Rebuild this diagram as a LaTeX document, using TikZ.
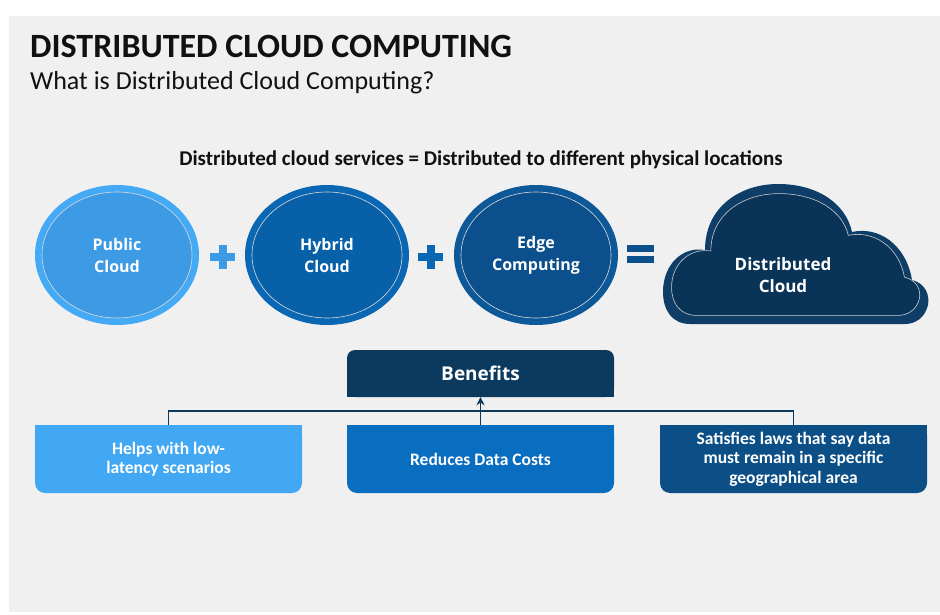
\documentclass[tikz,border=0pt]{standalone}
\usepackage{fontspec}
\setmainfont{Carlito}
\newfontfamily\osans{Open Sans}
\usetikzlibrary{arrows.meta,shapes.geometric,calc}
\definecolor{bg}{HTML}{F0F0F0}
\definecolor{navy}{HTML}{0B3A5E}
\definecolor{puba}{HTML}{45AAF5}
\definecolor{pubb}{HTML}{3D9BE6}
\definecolor{hyba}{HTML}{0A67B3}
\definecolor{hybb}{HTML}{0860A8}
\definecolor{edga}{HTML}{0D5898}
\definecolor{edgb}{HTML}{0B4F8C}
\definecolor{clda}{HTML}{0E3E68}
\definecolor{cldb}{HTML}{0A3358}
\definecolor{boxa}{HTML}{42A8F4}
\definecolor{boxb}{HTML}{0A6EC0}
\definecolor{boxc}{HTML}{0B4F86}
\definecolor{ink}{HTML}{111111}
\tikzset{
  outerov/.style={ellipse, minimum width=164, minimum height=140, inner sep=0},
  innerov/.style={ellipse, draw=white!85!black, line width=0.6pt, minimum width=150, minimum height=126, inner sep=0,
     text=white, align=center, font=\osans\bfseries\fontsize{16}{22}\selectfont},
  bbox/.style={minimum width=267, minimum height=68, inner sep=0, rounded corners=10pt},
  btext/.style={text=white, align=center, font=\bfseries\fontsize{17.5}{19.5}\selectfont},
  conn/.style={draw=navy, line width=1.8pt},
}
\newcommand\cloudpath{(690,324) .. controls (672,324) and (663,310) .. (663,292)
  .. controls (663,264) and (683,246) .. (705,250)
  .. controls (705,207) and (740,184) .. (778,184)
  .. controls (818,184) and (846,204) .. (852,232)
  .. controls (878,226) and (906,244) .. (912,280)
  .. controls (925,283) and (930,295) .. (928,305)
  .. controls (925,318) and (915,324) .. (905,324) -- cycle}
\begin{document}
\begin{tikzpicture}[x=1pt,y=-1pt]
\useasboundingbox (0,0) rectangle (940,615);
\fill[white] (0,0) rectangle (940,615);
\fill[bg] (9,16) rectangle (940,612);

\node[anchor=base west, inner sep=0, text=ink] (title) at (30,58)
  {\fontsize{34}{40}\selectfont\bfseries DISTRIBUTED CLOUD COMPUTING};
\node[anchor=base west, inner sep=0, text=ink] (sub) at (30,90)
  {\fontsize{26}{30}\selectfont What is Distributed Cloud Computing?};
\node[anchor=base, inner sep=0, text=ink] (head) at (481,165)
  {\fontsize{21}{24}\selectfont\bfseries Distributed cloud services = Distributed to different physical locations};

% circles
\node[outerov, fill=puba] (pub) at (117,255) {};
\node[innerov, fill=pubb] (pubi) at (pub) {Public\\Cloud};
\node[outerov, fill=hyba] (hyb) at (327,255) {};
\node[innerov, fill=hybb] (hybi) at (hyb) {Hybrid\\Cloud};
\node[outerov, fill=edga] (edg) at (536,255) {};
\node[innerov, fill=edgb] (edgi) at (edg) {Edge\\Computing};

% plus and equals
\fill[pubb] (210,253) rectangle (235,261);
\fill[pubb] (218.5,245) rectangle (226.5,269);
\fill[hyba] (418,253) rectangle (443,261);
\fill[hyba] (426.5,245) rectangle (434.5,269);
\fill[edgb] (627,245) rectangle (654,252);
\fill[edgb] (627,256) rectangle (654,263);

% cloud
\fill[clda] \cloudpath;
\begin{scope}[shift={(795,258)}, xscale=0.935, yscale=0.87, shift={(-795,-258)}]
\fill[cldb, draw=white!80!black, line width=0.6pt] \cloudpath;
\end{scope}
\node[text=white, align=center, font=\osans\bfseries\fontsize{17}{22}\selectfont] (dist) at (783,275) {Distributed\\Cloud};

% benefits
\node[minimum width=267, minimum height=47, inner sep=0, fill=navy, rounded corners=8pt] (ben) at (480.5,373.5) {};
\fill[navy] (ben.south west) rectangle (ben.east);
\node[text=white, font=\osans\bfseries\fontsize{19}{22}\selectfont] (bent) at (ben) {Benefits};

% bottom boxes
\node[bbox, fill=boxa] (b1) at (168.5,459) {};
\fill[boxa] (b1.north west) rectangle (b1.east);
\node[btext] (b1t) at (b1) {Helps with low-\\latency scenarios};
\node[bbox, fill=boxb] (b2) at (480.5,459) {};
\fill[boxb] (b2.north west) rectangle (b2.east);
\node[btext] (b2t) at (b2) {Reduces Data Costs};
\node[bbox, fill=boxc] (b3) at (793.5,459) {};
\fill[boxc] (b3.north west) rectangle (b3.east);
\node[btext] (b3t) at (b3) {Satisfies laws that say data\\must remain in a specific\\geographical area};

% connectors
\coordinate (mid) at ($(ben.south)!0.5!(b2.north)$);
\draw[conn] (b1.north) |- (mid) -| (b3.north);
\draw[conn, -{Stealth[length=8pt,width=8pt]}] (b2.north) -- (ben.south);
\end{tikzpicture}
\end{document}
